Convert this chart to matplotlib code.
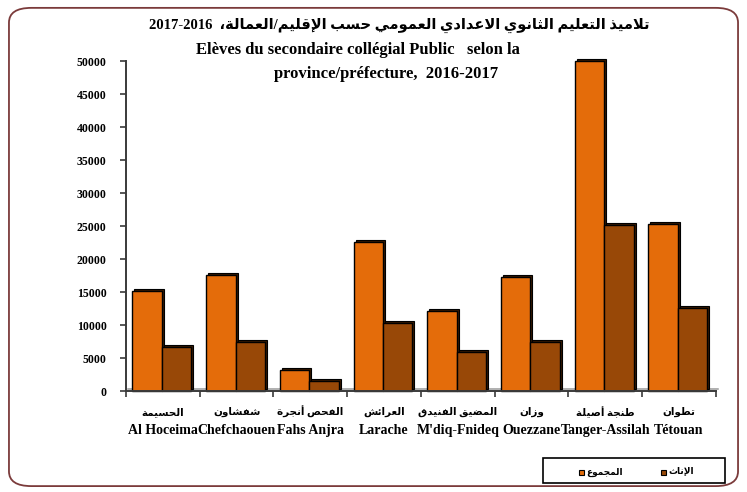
import matplotlib
matplotlib.use("Agg")
import matplotlib.pyplot as plt
from matplotlib.patches import Rectangle, FancyBboxPatch
from matplotlib.transforms import ScaledTranslation

# enrolment per province (public lower secondary), 2016-2017
provinces_fr = ["Al Hoceima", "Chefchaouen", "Fahs Anjra", "Larache",
                "M'diq-Fnideq", "Ouezzane", "Tanger-Assilah", "Tétouan"]
provinces_ar = ["الحسيمة", "شفشاون", "الفحص أنجرة", "العرائش",
                "المضيق الفنيدق", "وزان", "طنجة أصيلة", "تطوان"]
total = [15200, 17600, 3300, 22600, 12200, 17300, 50100, 25400]
girls = [6700, 7400, 1500, 10300, 6000, 7400, 25200, 12600]
yticks = list(range(0, 50001, 5000))

title_ar = "تلاميذ التعليم الثانوي الاعدادي العمومي حسب الإقليم/العمالة،"
title_years = "2017-2016"
title_fr1 = "Elèves du secondaire collégial Public   selon la"
title_fr2 = "province/préfecture,  2016-2017"
legend_ar = ["المجموع", "الإناث"]

ORANGE = "#E46C0A"
BROWN = "#984807"
DARK = "#3a1a02"

# --- tiny arabic shaper: contextual forms + lam-alef, then visual order ---
FORMS = {'ء': 0xFE80, 'آ': 0xFE81, 'أ': 0xFE83, 'ؤ': 0xFE85, 'إ': 0xFE87,
         'ئ': 0xFE89, 'ا': 0xFE8D, 'ب': 0xFE8F, 'ة': 0xFE93, 'ت': 0xFE95,
         'ث': 0xFE99, 'ج': 0xFE9D, 'ح': 0xFEA1, 'خ': 0xFEA5, 'د': 0xFEA9,
         'ذ': 0xFEAB, 'ر': 0xFEAD, 'ز': 0xFEAF, 'س': 0xFEB1, 'ش': 0xFEB5,
         'ص': 0xFEB9, 'ض': 0xFEBD, 'ط': 0xFEC1, 'ظ': 0xFEC5, 'ع': 0xFEC9,
         'غ': 0xFECD, 'ف': 0xFED1, 'ق': 0xFED5, 'ك': 0xFED9, 'ل': 0xFEDD,
         'م': 0xFEE1, 'ن': 0xFEE5, 'ه': 0xFEE9, 'و': 0xFEED, 'ى': 0xFEEF,
         'ي': 0xFEF1}
RIGHT_ONLY = set('آأؤإاةدذرزوى')
LAM_ALEF = {'آ': 0xFEF5, 'أ': 0xFEF7, 'إ': 0xFEF9, 'ا': 0xFEFB}


def shape(text):
    out = []
    i = 0
    prev_joins = False
    while i < len(text):
        ch = text[i]
        nxt = text[i + 1] if i + 1 < len(text) else ''
        if ch == 'ل' and nxt in LAM_ALEF:
            out.append(chr(LAM_ALEF[nxt] + int(prev_joins)))
            prev_joins = False
            i += 2
            continue
        if ch not in FORMS or ch == 'ء':
            out.append(ch)
            prev_joins = False
            i += 1
            continue
        dual = ch not in RIGHT_ONLY
        next_joins = dual and nxt in FORMS and nxt != 'ء'
        if prev_joins and next_joins:
            form = 3
        elif prev_joins:
            form = 1
        elif next_joins:
            form = 2
        else:
            form = 0
        out.append(chr(FORMS[ch] + form))
        prev_joins = dual
        i += 1
    return ''.join(reversed(out))


FAM = ['Liberation Serif', 'DejaVu Sans']

fig = plt.figure(figsize=(7.47, 4.92), dpi=100)
fig.patch.set_facecolor("white")

# rounded chart frame
fig.patches.append(FancyBboxPatch((0.012, 0.012), 0.976, 0.972,
                                  boxstyle="round,pad=0,rounding_size=0.03",
                                  transform=fig.transFigure, fill=False,
                                  edgecolor="#7b3b3b", linewidth=1.3))

ax = fig.add_axes([0.1687, 0.2047, 0.7897, 0.6707])
n = len(total)
ax.set_xlim(0, n)
ax.set_ylim(0, 50000)

w = 0.4
off = 0.085
shift = ScaledTranslation(2.0 / 100, 2.0 / 100, fig.dpi_scale_trans)
for i in range(n):
    for k, (vals, col) in enumerate([(total, ORANGE), (girls, BROWN)]):
        x0 = i + off + k * w
        # depth side of the bar
        ax.add_patch(Rectangle((x0, 0), w, vals[i], facecolor=DARK,
                               edgecolor="black", linewidth=0.8,
                               transform=ax.transData + shift,
                               clip_on=False, zorder=2))
        ax.add_patch(Rectangle((x0, 0), w, vals[i], facecolor=col,
                               edgecolor="black", linewidth=1.0,
                               clip_on=False, zorder=3))

# floor edge behind the bars
ax.plot([0, n], [0, 0], color="#9a9a9a", linewidth=1.1,
        transform=ax.transData + shift, zorder=1, clip_on=False)

for s in ["top", "right"]:
    ax.spines[s].set_visible(False)
for s in ["left", "bottom"]:
    ax.spines[s].set_color("#3a3a3a")
    ax.spines[s].set_linewidth(1.4)
    ax.spines[s].set_zorder(4)

ax.set_yticks(yticks)
ax.set_yticklabels([str(v) for v in yticks], fontfamily='Liberation Serif',
                   fontweight='bold', fontsize=8.5)
ax.set_xticks(range(n + 1))
ax.set_xticklabels([])
ax.tick_params(axis='both', direction='out', length=4, width=1.2,
               color="#3a3a3a", pad=10)

xt = ax.get_xaxis_transform()
for i in range(n):
    ax.text(i + 0.5, -0.063, shape(provinces_ar[i]), transform=xt,
            ha='center', va='center', family=FAM, fontweight='bold',
            fontsize=7.5)
    ax.text(i + 0.5, -0.12, provinces_fr[i], transform=xt, ha='center',
            va='center', family=FAM, fontweight='bold', fontsize=10)

# titles
fig.text(0.535, 1 - 25 / 492, title_years + "  " + shape(title_ar),
         ha='center', va='center', family=FAM, fontweight='bold',
         fontsize=10.5)
fig.text(0.479, 1 - 50 / 492, title_fr1, ha='center', va='center',
         family=FAM, fontweight='bold', fontsize=12)
fig.text(0.517, 1 - 74 / 492, title_fr2, ha='center', va='center',
         family=FAM, fontweight='bold', fontsize=12)

# legend box
fig.patches.append(Rectangle((543 / 747, 1 - 483 / 492), 182 / 747,
                             25 / 492, transform=fig.transFigure,
                             fill=False, edgecolor="black", linewidth=1.2))
for xs, col, lab in [(579, ORANGE, legend_ar[0]), (661, BROWN, legend_ar[1])]:
    fig.patches.append(Rectangle((xs / 747, 1 - 474.5 / 492), 5 / 747,
                                 5 / 492, transform=fig.transFigure,
                                 facecolor=col, edgecolor="black",
                                 linewidth=0.8))
    fig.text((xs + 7) / 747, 1 - 472 / 492, shape(lab), ha='left',
             va='center', family=FAM, fontweight='bold', fontsize=6.5)

fig.savefig("out.png", dpi=100)
